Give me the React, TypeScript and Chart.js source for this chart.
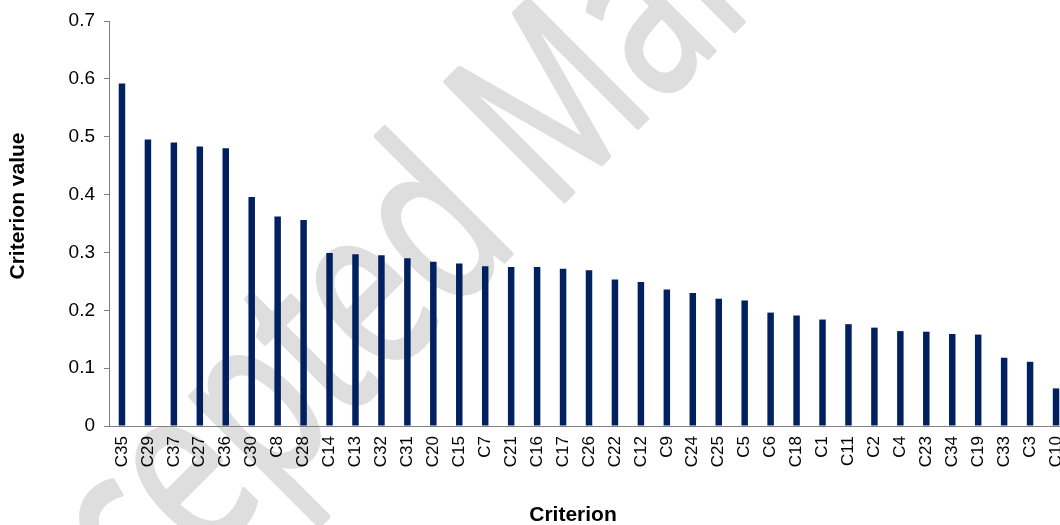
import { useEffect, useRef } from 'react';
import { Chart, registerables } from 'chart.js';

Chart.register(...registerables);

const categories = [
  'C35', 'C29', 'C37', 'C27', 'C36', 'C30', 'C8', 'C28', 'C14', 'C13',
  'C32', 'C31', 'C20', 'C15', 'C7', 'C21', 'C16', 'C17', 'C26', 'C22',
  'C12', 'C9', 'C24', 'C25', 'C5', 'C6', 'C18', 'C1', 'C11', 'C2',
  'C4', 'C23', 'C34', 'C19', 'C33', 'C3', 'C10',
];

const criterionValues = [
  0.592, 0.495, 0.490, 0.483, 0.480, 0.396, 0.362, 0.356, 0.299, 0.297,
  0.295, 0.290, 0.284, 0.281, 0.276, 0.275, 0.275, 0.272, 0.269, 0.253,
  0.249, 0.236, 0.230, 0.220, 0.217, 0.196, 0.191, 0.184, 0.176, 0.170,
  0.164, 0.163, 0.159, 0.158, 0.118, 0.111, 0.065,
];

const yTickLabels = ['0', '0.1', '0.2', '0.3', '0.4', '0.5', '0.6', '0.7'];

const xAxisTitle = 'Criterion';
const yAxisTitle = 'Criterion value';
const watermarkText = 'Accepted Manuscript';
const watermarkLead = 'Accepted ';

const CANVAS_W = 1100;
const CANVAS_H = 525;
const FONT = '"Liberation Sans", Arial, sans-serif';

export default function App() {
  const ref = useRef<HTMLCanvasElement | null>(null);

  useEffect(() => {
    const canvas = ref.current;
    if (!canvas) return;

    const watermark = {
      id: 'watermark',
      beforeDraw(chart: any) {
        const ctx = chart.ctx as CanvasRenderingContext2D;
        const fontSize = 235;
        const sx = 0.71;
        const baselineSum = 765; // x + y along the -45° baseline
        const mLegU = 264; // position of the M's first leg along the baseline
        ctx.save();
        ctx.font = `${fontSize}px "Open Sans", sans-serif`;
        const leadW = ctx.measureText(watermarkLead).width;
        const uStart = mLegU - (leadW + 0.142 * fontSize) * sx;
        const x0 = (baselineSum + uStart * Math.SQRT2) / 2;
        const y0 = (baselineSum - uStart * Math.SQRT2) / 2;
        ctx.fillStyle = '#dedede';
        ctx.strokeStyle = '#dedede';
        ctx.lineWidth = 5;
        ctx.lineJoin = 'round';
        ctx.textAlign = 'left';
        ctx.textBaseline = 'alphabetic';
        ctx.translate(x0, y0);
        ctx.rotate(-Math.PI / 4);
        ctx.scale(sx, 1);
        ctx.fillText(watermarkText, 0, 0);
        ctx.strokeText(watermarkText, 0, 0);
        ctx.restore();
      },
    };

    const axisTitles = {
      id: 'axisTitles',
      afterDraw(chart: any) {
        const ctx = chart.ctx as CanvasRenderingContext2D;
        ctx.save();
        ctx.fillStyle = '#000000';
        ctx.font = `bold 21px ${FONT}`;
        ctx.textAlign = 'center';
        ctx.textBaseline = 'middle';
        ctx.fillText(xAxisTitle, 573, 515);
        ctx.translate(18.5, 206);
        ctx.rotate(-Math.PI / 2);
        ctx.fillText(yAxisTitle, 0, 0);
        ctx.restore();
      },
    };

    const chart = new Chart(canvas, {
      type: 'bar',
      data: {
        labels: categories,
        datasets: [
          {
            data: criterionValues,
            backgroundColor: '#002060',
            borderWidth: 0,
            barPercentage: 0.25,
            categoryPercentage: 1,
          },
        ],
      },
      options: {
        responsive: false,
        animation: false,
        maintainAspectRatio: false,
        layout: { padding: { top: 21, right: 31, left: 0, bottom: 0 } },
        plugins: {
          legend: { display: false },
          tooltip: { enabled: false },
        },
        scales: {
          x: {
            grid: { display: false, drawTicks: false },
            border: { display: true, color: '#808080', width: 1 },
            ticks: {
              autoSkip: false,
              maxRotation: 90,
              minRotation: 90,
              padding: 10,
              color: '#000000',
              font: { family: FONT, size: 17 },
            },
            afterFit: (s: any) => {
              s.height = 99;
            },
          },
          y: {
            min: 0,
            max: 0.7,
            ticks: {
              stepSize: 0.1,
              padding: 9,
              color: '#000000',
              font: { family: FONT, size: 19 },
              callback: (_v: any, i: number) => yTickLabels[i],
            },
            grid: {
              drawOnChartArea: false,
              drawTicks: true,
              tickLength: 5,
              color: '#808080',
            },
            border: { display: true, color: '#808080', width: 1 },
            afterFit: (s: any) => {
              s.width = 109;
            },
          },
        },
      },
      plugins: [watermark, axisTitles],
    });

    return () => chart.destroy();
  }, []);

  return (
    <div
      style={{
        position: 'absolute',
        left: 0,
        top: 0,
        width: 1060,
        height: 525,
        overflow: 'hidden',
      }}
    >
      <canvas ref={ref} width={CANVAS_W} height={CANVAS_H} style={{ display: 'block' }} />
    </div>
  );
}
